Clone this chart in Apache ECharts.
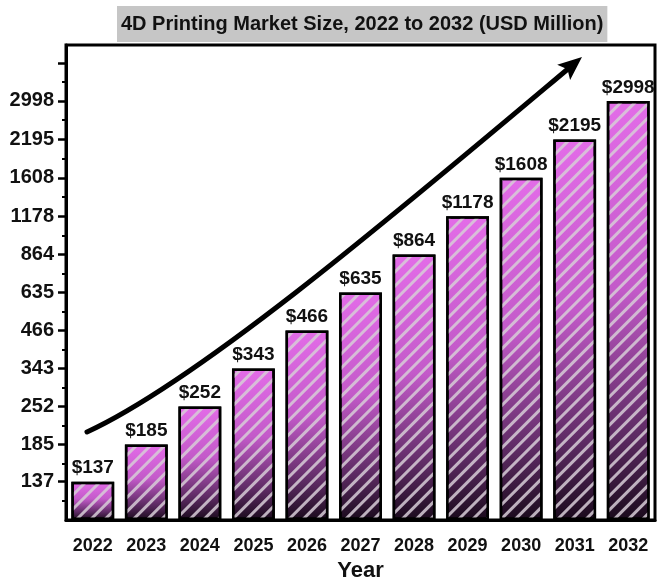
<!DOCTYPE html>
<html>
<head>
<meta charset="utf-8">
<script src="https://cdn.jsdelivr.net/npm/echarts@6/dist/echarts.min.js"></script>
<style>
  html, body { margin: 0; padding: 0; background: #fff; }
  #chart { width: 658px; height: 581px; }
</style>
</head>
<body>
<div id="chart"></div>
<script>
// Market size per year, USD million
const years = ['2022', '2023', '2024', '2025', '2026', '2027', '2028', '2029', '2030', '2031', '2032'];
const marketSize = [137, 185, 252, 343, 466, 635, 864, 1178, 1608, 2195, 2998];

// Log-scale y axis: labelled ticks, one unlabelled major tick above, and minor ticks between
const yTickLabels = [137, 185, 252, 343, 466, 635, 864, 1178, 1608, 2195, 2998];
const yMajorTicks = yTickLabels.concat([4077]);
const yMinorTicks = [117, 159, 216, 294, 400, 544, 741, 1009, 1376, 1879, 2565, 3496];
const yMin = 100.4;
const yMax = 4717;

const FONT = '"Liberation Sans", Arial, sans-serif';

const chart = echarts.init(document.getElementById('chart'), null, { renderer: 'canvas' });

const barFill = new echarts.graphic.LinearGradient(0, 0, 0, 1, [
  { offset: 0, color: '#e36ce8' },
  { offset: 0.45, color: '#c35ac9' },
  { offset: 0.8, color: '#5c2a62' },
  { offset: 1, color: '#1a0a1c' }
]);

// Trend arrow drawn over the plot
const arrowTip = [582, 57];
const arrowDir = [0.764, -0.645];
const headLen = 24, headHalf = 10;
const baseC = [arrowTip[0] - headLen * arrowDir[0], arrowTip[1] - headLen * arrowDir[1]];
const perp = [-arrowDir[1], arrowDir[0]];

chart.setOption({
  animation: false,
  backgroundColor: '#fff',
  title: {
    text: '4D Printing Market Size, 2022 to 2032 (USD Million)',
    left: 117,
    top: 6,
    padding: [8, 4, 8, 4],
    backgroundColor: '#c6c6c6',
    textStyle: { fontFamily: FONT, fontWeight: 'bold', fontSize: 20, color: '#111' }
  },
  grid: {
    left: 66, right: 3, top: 45, bottom: 61,
    outerBoundsMode: 'none',
    show: true, borderColor: '#000', borderWidth: 3, backgroundColor: 'transparent'
  },
  xAxis: [
    {
      type: 'category',
      data: years,
      name: 'Year',
      nameLocation: 'middle',
      nameGap: 40,
      nameTextStyle: { fontFamily: FONT, fontWeight: 'bold', fontSize: 22, color: '#111' },
      axisLine: { lineStyle: { color: '#000', width: 3 } },
      axisTick: { alignWithLabel: true, length: 8, lineStyle: { color: '#000', width: 2.5 } },
      axisLabel: { margin: 17, fontFamily: FONT, fontWeight: 'bold', fontSize: 18, color: '#111' }
    },
    {
      type: 'category',
      data: years,
      position: 'bottom',
      axisLine: { show: false },
      axisTick: { alignWithLabel: false, length: 4, lineStyle: { color: '#000', width: 2 } },
      axisLabel: { show: false }
    }
  ],
  yAxis: [
    {
      type: 'log',
      min: yMin,
      max: yMax,
      startValue: yMin,
      position: 'left',
      splitLine: { show: false },
      axisLine: { show: true, lineStyle: { color: '#000', width: 3 } },
      axisTick: { show: true, length: 8, customValues: yMajorTicks, lineStyle: { color: '#000', width: 2.5 } },
      axisLabel: {
        customValues: yTickLabels,
        margin: 12,
        fontFamily: FONT, fontWeight: 'bold', fontSize: 20, color: '#111',
        formatter: v => String(Math.round(v))
      }
    },
    {
      type: 'log',
      min: yMin,
      max: yMax,
      position: 'left',
      splitLine: { show: false },
      axisLine: { show: false },
      axisTick: { show: true, length: 4, customValues: yMinorTicks, lineStyle: { color: '#000', width: 2 } },
      axisLabel: { show: false }
    }
  ],
  series: [
    {
      type: 'bar',
      data: marketSize,
      barCategoryGap: '20%',
      itemStyle: {
        color: barFill,
        borderColor: '#000',
        borderWidth: 2.5,
        decal: {
          symbol: 'rect',
          symbolSize: 1,
          dashArrayX: [1, 0],
          dashArrayY: [2.5, 7],
          rotation: -Math.PI / 4,
          color: 'rgba(215,205,215,0.85)'
        }
      },
      label: {
        show: true,
        position: 'top',
        distance: 4,
        fontFamily: FONT, fontWeight: 'bold', fontSize: 19, color: '#111',
        formatter: p => '$' + p.value
      }
    }
  ],
  graphic: [
    {
      type: 'bezierCurve',
      shape: {
        x1: 87, y1: 432,
        cpx1: 200, cpy1: 380,
        cpx2: 400, cpy2: 210,
        x2: baseC[0] + 3, y2: baseC[1] - 2.5
      },
      style: { stroke: '#000', lineWidth: 5, fill: null, lineCap: 'round' },
      z: 100
    },
    {
      type: 'polygon',
      shape: {
        points: [
          arrowTip,
          [baseC[0] + headHalf * perp[0], baseC[1] + headHalf * perp[1]],
          [baseC[0] + 5 * arrowDir[0], baseC[1] + 5 * arrowDir[1]],
          [baseC[0] - headHalf * perp[0], baseC[1] - headHalf * perp[1]]
        ]
      },
      style: { fill: '#000' },
      z: 100
    }
  ]
});
</script>
</body>
</html>
